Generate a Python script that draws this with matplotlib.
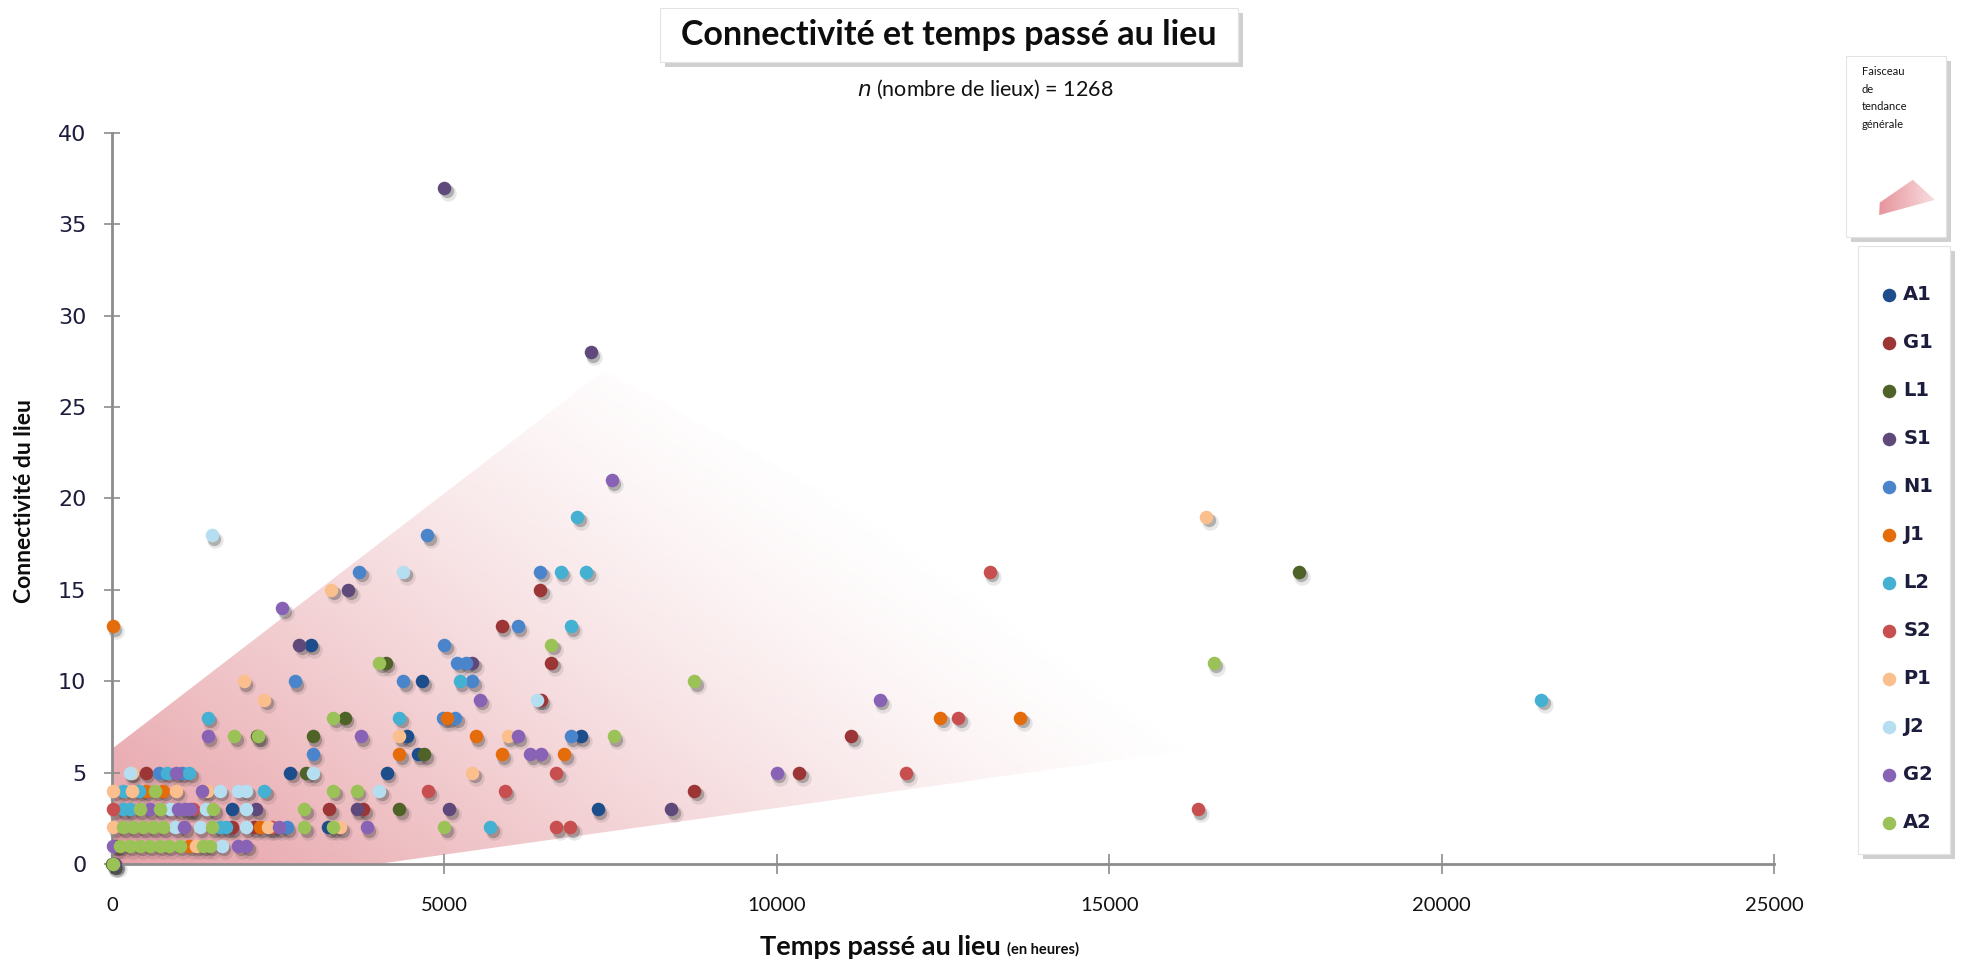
import numpy as np
import matplotlib.pyplot as plt
from matplotlib.patches import Polygon, Rectangle
import matplotlib.transforms as mtransforms

# Temps passé au lieu (heures) / connectivité du lieu, par participant
a1_x = [2990, 4670, 4430, 4600, 2680, 4130, 7050, 7310, 1810, 3250, 30]
a1_y = [12, 10, 7, 6, 5, 5, 7, 3, 3, 2, 0]

g1_x = [6440, 5860, 6610, 6450, 11120, 10340, 8760, 3270, 3780, 510, 2130, 1800, 60]
g1_y = [15, 13, 11, 9, 7, 5, 4, 3, 3, 5, 2, 2, 1]

l1_x = [17850, 4120, 3500, 2180, 3020, 4700, 2920, 4320, 0]
l1_y = [16, 11, 8, 7, 7, 6, 5, 3, 0]

s1_x = [5000, 7200, 3550, 2820, 5420, 5070, 8410, 2170, 3680, 50]
s1_y = [37, 28, 15, 12, 11, 3, 3, 3, 3, 0]

n1_x = [4740, 3720, 6440, 6100, 5000, 5190, 5320, 2750, 4380, 5420, 4980, 5160,
        6900, 3020, 710, 1050, 2630]
n1_y = [18, 16, 16, 13, 12, 11, 11, 10, 10, 10, 8, 8, 7, 6, 5, 5, 2]

j1_x = [10, 5040, 12460, 13660, 4320, 5470, 5860, 6800, 510, 770, 2230, 1160]
j1_y = [13, 8, 8, 8, 6, 7, 6, 6, 4, 4, 2, 1]

l2_x = [7000, 6750, 7130, 6900, 5230, 1440, 4320, 21500, 820, 1160, 160, 410,
        2290, 160, 270, 1720, 5690, 1620]
l2_y = [19, 16, 16, 13, 10, 8, 8, 9, 5, 5, 4, 4, 4, 3, 3, 2, 2, 2]

s2_x = [13200, 16330, 12730, 6680, 11940, 4750, 5910, 6680, 6890, 20, 1220, 2400]
s2_y = [16, 3, 8, 5, 5, 4, 4, 2, 2, 3, 3, 2]

p1_x = [16460, 3300, 1980, 2290, 4320, 5950, 5420, 300, 20, 295, 960, 1430, 20,
        2350, 3430, 1270]
p1_y = [19, 15, 10, 9, 7, 7, 5, 5, 4, 4, 4, 4, 2, 2, 2, 1]

j2_x = [1500, 4380, 6400, 270, 3020, 1620, 1900, 2020, 4020, 870, 1410, 2010,
        950, 1320, 2010, 1650]
j2_y = [18, 16, 9, 5, 5, 4, 4, 4, 4, 3, 3, 3, 2, 2, 2, 1]

g2_x = [7520, 2560, 11550, 5530, 1440, 3740, 6100, 6290, 6460, 10000, 960, 1350,
        570, 1000, 1100, 1170, 1090, 2510, 3830, 20, 1900, 2020]
g2_y = [21, 14, 9, 9, 7, 7, 7, 6, 6, 5, 5, 4, 3, 3, 3, 3, 2, 2, 2, 1, 1, 1]

a2_x = [16570, 6610, 8760, 7550, 4020, 3330, 1840, 2200, 3330, 3680, 650, 420,
        720, 1520, 2890, 5000, 170, 320, 470, 620, 770, 1510, 2890, 3330, 120,
        270, 420, 570, 720, 850, 1020, 1370, 1470, 10]
a2_y = [11, 12, 10, 7, 11, 8, 7, 7, 4, 4, 4, 3, 3, 3, 3, 2, 2, 2, 2, 2, 2, 2, 2,
        2, 1, 1, 1, 1, 1, 1, 1, 1, 1, 0]

series = [
    ("A1", a1_x, a1_y, "#1d4d8a"),
    ("G1", g1_x, g1_y, "#9c3535"),
    ("L1", l1_x, l1_y, "#4f6228"),
    ("S1", s1_x, s1_y, "#5f497a"),
    ("N1", n1_x, n1_y, "#4a85cc"),
    ("J1", j1_x, j1_y, "#e46c0a"),
    ("L2", l2_x, l2_y, "#44b0d2"),
    ("S2", s2_x, s2_y, "#c84f4f"),
    ("P1", p1_x, p1_y, "#fbbf8e"),
    ("J2", j2_x, j2_y, "#b5def0"),
    ("G2", g2_x, g2_y, "#8862b5"),
    ("A2", a2_x, a2_y, "#9bc257"),
]
n_lieux = 1268

W, H = 1975, 963
fig = plt.figure(figsize=(W / 100, H / 100), dpi=100)
fig.patch.set_facecolor("white")

def fx(px):
    return px / W

def fy(py):
    return 1 - py / H

def boxed(x0, y0, x1, y1, off=5):
    # cadre blanc avec ombre portée, coordonnées en pixels de la figure
    fig.patches.append(Rectangle((fx(x0 + off), fy(y1 + off)), (x1 - x0) / W, (y1 - y0) / H,
                                 transform=fig.transFigure, facecolor="#8a8a8a",
                                 alpha=0.4, edgecolor="none", zorder=-2))
    fig.patches.append(Rectangle((fx(x0), fy(y1)), (x1 - x0) / W, (y1 - y0) / H,
                                 transform=fig.transFigure, facecolor="white",
                                 edgecolor="#e3e3e3", linewidth=0.8, zorder=-1))

ax = fig.add_axes([fx(112), fy(864), (1774 - 112) / W, (864 - 133) / H])

# faisceau de tendance : coin dégradé rose qui s'efface vers la droite
wedge = Polygon([(0, 0), (4000, 0), (17500, 6.9), (7400, 27), (0, 6.3)],
                closed=True, facecolor="none", edgecolor="none")
ax.add_patch(wedge)
gx, gy = np.meshgrid(np.linspace(0, 25000, 700), np.linspace(0, 40, 350))
px = gx / 25000 * 1662
py = gy / 40 * 731
fade = np.clip(1 - (0.0008 * px + 0.0011 * py), 0, 1) ** 1.3
rgba = np.empty(gx.shape + (4,))
rgba[..., 0], rgba[..., 1], rgba[..., 2] = 0.87, 0.50, 0.53
rgba[..., 3] = 0.74 * fade
im = ax.imshow(rgba, extent=(0, 25000, 0, 40), origin="lower", aspect="auto",
               interpolation="bilinear", zorder=1)
im.set_clip_path(wedge)

sh_near = mtransforms.offset_copy(ax.transData, fig=fig, x=2.5, y=-3.5, units="dots")
sh_far = mtransforms.offset_copy(ax.transData, fig=fig, x=3.5, y=-5, units="dots")

handles = []
for name, xs, ys, col in series:
    ax.scatter(xs, ys, s=140, color="#303030", alpha=0.11, linewidths=0,
               transform=sh_far, zorder=2, clip_on=False)
    ax.scatter(xs, ys, s=92, color="#303030", alpha=0.30, linewidths=0,
               transform=sh_near, zorder=2, clip_on=False)
    h = ax.scatter(xs, ys, s=95, color=col, linewidths=0, zorder=3,
                   clip_on=False, label=name)
    handles.append(h)

ax.set_xlim(0, 25000)
ax.set_ylim(0, 40)
ax.set_xticks(range(0, 25001, 5000))
ax.set_yticks(range(0, 41, 5))
for side in ("top", "right"):
    ax.spines[side].set_visible(False)
for side in ("left", "bottom"):
    ax.spines[side].set_color("#8c8c8c")
    ax.spines[side].set_linewidth(2)
ax.tick_params(axis="x", direction="inout", length=15, width=1.2, color="#8c8c8c",
               pad=16, labelsize=14.5, labelcolor="#111111")
ax.tick_params(axis="y", direction="inout", length=11, width=1.2, color="#8c8c8c",
               pad=13, labelsize=16, labelcolor="#1c1c3c")
for lab in ax.get_xticklabels():
    lab.set_fontfamily(["Lato", "DejaVu Sans"])
for lab in ax.get_yticklabels():
    lab.set_fontfamily(["DejaVu Sans"])

fig.text(fx(25), fy(501), "Connectivité du lieu", rotation=90, ha="center",
         va="center", fontsize=16.5, fontweight="bold", color="#0d0d0d",
         family=["Lato", "DejaVu Sans"])
xl = fig.text(fx(760), fy(947), "Temps passé au lieu", ha="left", va="center",
              fontsize=19.5, fontweight="bold", color="#0d0d0d",
              family=["Lato", "DejaVu Sans"])
renderer = fig.canvas.get_renderer()
xl_end = xl.get_window_extent(renderer).x1
fig.text(xl_end / W + fx(6), fy(949), "(en heures)", ha="left", va="center",
         fontsize=10.5, fontweight="bold", color="#0d0d0d",
         family=["Lato", "DejaVu Sans"])

# titre encadré
boxed(660, 8, 1238, 62)
fig.text(fx(949), fy(35), "Connectivité et temps passé au lieu", ha="center",
         va="center", fontsize=24.5, fontweight="bold", color="#0d0d0d",
         family=["Lato", "DejaVu Sans"])
fig.text(fx(985), fy(89), f"$\\it{{n}}$ (nombre de lieux) = {n_lieux}", ha="center",
         va="center", fontsize=15.5, color="#111111", family=["Lato", "DejaVu Sans"])

# encadré « faisceau de tendance générale »
boxed(1846, 56, 1946, 237)
fig.text(fx(1862), fy(66), "Faisceau\nde\ntendance\ngénérale", ha="left", va="top",
         fontsize=8, linespacing=1.75, color="#141414",
         family=["Lato", "DejaVu Sans"])
icon = fig.add_axes([fx(1878), fy(217), fx(1936 - 1878), (217 - 179) / H], zorder=2)
icon.set_xlim(0, 1)
icon.set_ylim(0, 1)
icon.axis("off")
icon_shape = Polygon([(0.02, 0.05), (0.03, 0.38), (0.6, 0.98), (0.98, 0.45)],
                     closed=True, facecolor="none", edgecolor="none")
icon.add_patch(icon_shape)
ig = np.linspace(0, 1, 60)[None, :].repeat(20, axis=0)
irgba = np.empty(ig.shape + (4,))
irgba[..., 0], irgba[..., 1], irgba[..., 2] = 0.89, 0.50, 0.54
irgba[..., 3] = 0.85 - 0.6 * ig
ii = icon.imshow(irgba, extent=(0, 1, 0, 1), origin="lower", aspect="auto")
ii.set_clip_path(icon_shape)

# légende des participants
boxed(1858, 246, 1950, 854)
leg = ax.legend(handles=handles, loc="upper left",
                bbox_to_anchor=(fx(1878), fy(285)), bbox_transform=fig.transFigure,
                frameon=False, borderpad=0, labelspacing=1.49, handletextpad=0.2,
                handlelength=1.1, borderaxespad=0, scatterpoints=1,
                prop={"family": "DejaVu Sans", "weight": "bold", "size": 14})
for t in leg.get_texts():
    t.set_color("#1c1c3c")

fig.savefig("out.png", dpi=100, facecolor="white")
